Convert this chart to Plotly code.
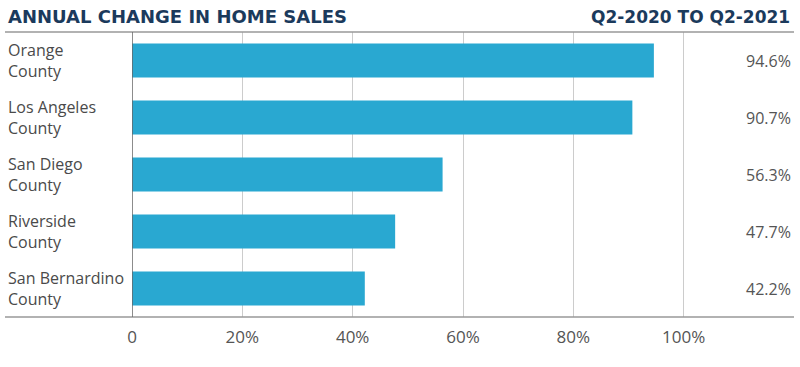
import plotly.graph_objects as go

categories = ["Orange<br>County", "Los Angeles<br>County", "San Diego<br>County",
              "Riverside<br>County", "San Bernardino<br>County"]
values = [94.6, 90.7, 56.3, 47.7, 42.2]
value_labels = ["94.6%", "90.7%", "56.3%", "47.7%", "42.2%"]
tick_vals = [0, 20, 40, 60, 80, 100]
tick_text = ["0", "20%", "40%", "60%", "80%", "100%"]

FONT = "Open Sans"
TFONT = "DejaVu Sans"
BAR = "#29A8D1"
NAVY = "#1B3A5C"
GRAY = "#555555"

fig = go.Figure(go.Bar(
    x=values, y=categories, orientation="h",
    marker=dict(color=BAR, line=dict(width=0)),
    hoverinfo="skip",
))

plot_w = 800 - 132 - 6

annotations = []
for c, lab in zip(categories, value_labels):
    annotations.append(dict(x=1, xref="paper", y=c, yref="y", text=lab,
                            showarrow=False, xanchor="right", xshift=-1,
                            font=dict(family=FONT, size=16, color=GRAY)))
    annotations.append(dict(x=(6 - 132) / plot_w, xref="paper", y=c, yref="y", text=c,
                            showarrow=False, xanchor="left", align="left",
                            font=dict(family=FONT, size=16, color="#4A4A4A")))
annotations.append(dict(x=(6 - 132) / plot_w, xref="paper", y=1, yref="paper",
                        text="ANNUAL CHANGE IN HOME SALES",
                        showarrow=False, xanchor="left", yanchor="bottom", yshift=3,
                        font=dict(family=TFONT, size=18, color=NAVY, weight="bold")))
annotations.append(dict(x=1, xref="paper", y=1, yref="paper", text="Q2-2020 TO Q2-2021",
                        showarrow=False, xanchor="right", yanchor="bottom", yshift=3, xshift=-2,
                        font=dict(family=TFONT, size=17, color=NAVY, weight="bold")))

shapes = [
    dict(type="line", xref="paper", yref="paper", x0=(5 - 132) / plot_w, x1=1, y0=1, y1=1,
         line=dict(color="#999999", width=1.5)),
    dict(type="line", xref="paper", yref="paper", x0=(5 - 132) / plot_w, x1=1, y0=0, y1=0,
         line=dict(color="#999999", width=1.5)),
    dict(type="line", xref="x", yref="paper", x0=0, x1=0, y0=0, y1=1,
         line=dict(color="#666666", width=1.5)),
]

fig.update_layout(
    width=800, height=367,
    margin=dict(l=132, r=6, t=32, b=50),
    paper_bgcolor="white", plot_bgcolor="white",
    bargap=0.4,
    showlegend=False,
    font=dict(family=FONT, color=GRAY),
    xaxis=dict(range=[0, 120], tickvals=tick_vals, ticktext=tick_text,
               showgrid=True, gridcolor="#CCCCCC", gridwidth=1,
               zeroline=False, showline=False, ticks="",
               ticklabelstandoff=8,
               tickfont=dict(family=FONT, size=17, color=GRAY)),
    yaxis=dict(autorange="reversed", showticklabels=False, showgrid=False,
               zeroline=False, showline=False, ticks=""),
    annotations=annotations,
    shapes=shapes,
)

fig.write_html("out.html", config={"displayModeBar": False},
               post_script="document.body.style.margin='0';document.body.style.padding='0';")
